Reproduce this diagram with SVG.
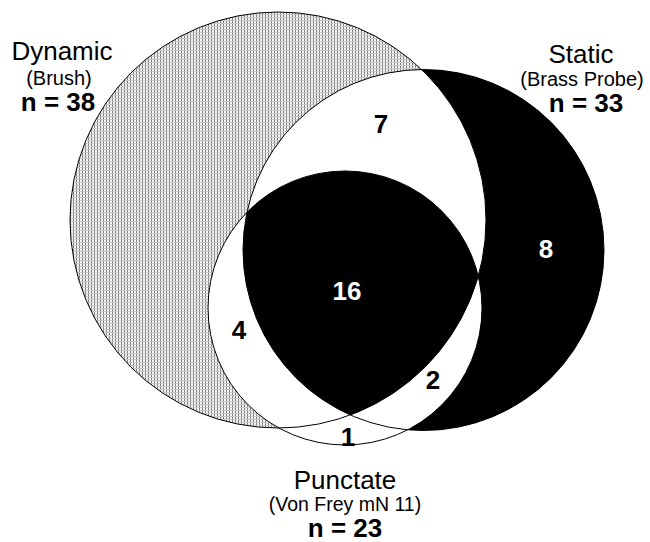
<svg xmlns="http://www.w3.org/2000/svg" width="650" height="542" viewBox="0 0 650 542">
  <style>
    .outline { fill: none; stroke: #000; stroke-width: 1; }
    .lbl { font-family: "Liberation Sans", Arial, sans-serif; fill: #000; text-anchor: middle; }
    .big { font-size: 26px; }
    .sub { font-size: 20px; }
    .n { font-size: 26px; font-weight: bold; }
    .num { font-family: "Liberation Sans", Arial, sans-serif; font-size: 26px; font-weight: bold; text-anchor: middle; }
  </style>
  <defs>
    <pattern id="stipple" width="3" height="3" patternUnits="userSpaceOnUse">
      <rect width="3" height="3" fill="#f4f4f4"/>
      <rect x="1" y="0" width="1" height="2" fill="#7e7e7e"/>
      <rect x="0" y="2" width="3" height="1" fill="#c6c6c6"/>
    </pattern>
    <clipPath id="clipD"><circle cx="278" cy="220" r="208"/></clipPath>
    <clipPath id="clipS"><circle cx="423.5" cy="250" r="180.5"/></clipPath>
  </defs>
  <rect width="650" height="542" fill="#fff"/>

  <g id="regions">
    <circle cx="278" cy="220" r="208" fill="url(#stipple)"/>
    <circle cx="423.5" cy="250" r="180.5" fill="#000"/>
    <circle cx="423.5" cy="250" r="180.5" fill="#fff" clip-path="url(#clipD)"/>
    <circle cx="345" cy="308" r="137" fill="#fff"/>
    <g clip-path="url(#clipS)">
      <circle cx="345" cy="308" r="137" fill="#000" clip-path="url(#clipD)"/>
    </g>
  </g>

  <g id="dynamic">
    <circle class="outline" cx="278" cy="220" r="208"/>
    <text class="lbl big" x="62" y="60">Dynamic</text>
    <text class="lbl sub" x="59" y="85">(Brush)</text>
    <text class="lbl n" x="58" y="111">n = 38</text>
  </g>

  <g id="static">
    <circle class="outline" cx="423.5" cy="250" r="180.5"/>
    <text class="lbl big" x="581" y="63">Static</text>
    <text class="lbl sub" x="582" y="86">(Brass Probe)</text>
    <text class="lbl n" x="586" y="112">n = 33</text>
  </g>

  <g id="punctate">
    <circle class="outline" cx="345" cy="308" r="137"/>
    <text class="lbl big" x="345" y="489">Punctate</text>
    <text class="lbl sub" x="345" y="511" style="font-size:19.5px">(Von Frey mN 11)</text>
    <text class="lbl n" x="345" y="537">n = 23</text>
  </g>

  <g id="counts">
    <text class="num" x="381" y="133" fill="#000">7</text>
    <text class="num" x="546" y="258" fill="#fff">8</text>
    <text class="num" x="347" y="300" fill="#fff">16</text>
    <text class="num" x="239" y="339" fill="#000">4</text>
    <text class="num" x="433" y="389" fill="#000">2</text>
    <text class="num" x="348" y="446" fill="#000">1</text>
  </g>
</svg>
